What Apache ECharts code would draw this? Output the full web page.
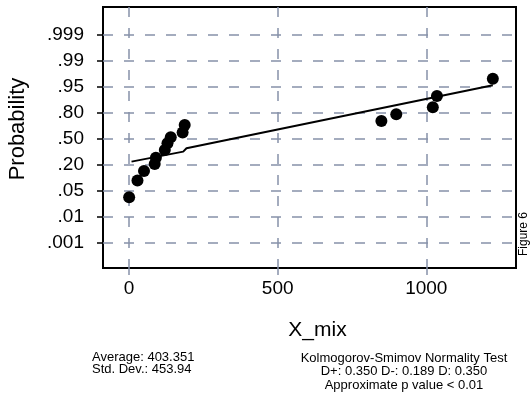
<!DOCTYPE html>
<html>
<head>
<meta charset="utf-8">
<script src="https://cdn.jsdelivr.net/npm/echarts@6/dist/echarts.min.js"></script>
<style>
html,body{margin:0;padding:0;background:#fff;}
#chart{width:531px;height:394px;}
</style>
</head>
<body>
<div id="chart"></div>
<script>
// Data (x = X_mix value, y = position on the probability axis, in tick-index units)
var pointX = [0, 28, 50, 86, 90, 120, 129, 140, 180, 187, 849, 899, 1022, 1036, 1224];
var pointY = [1.75, 2.39, 2.76, 3.03, 3.27, 3.57, 3.83, 4.06, 4.24, 4.53, 4.69, 4.95, 5.22, 5.65, 6.31];
var fitX = [8, 182, 193, 1224];
var fitY = [3.12, 3.505, 3.636, 6.06];
var yTickLabels = ['.001', '.01', '.05', '.20', '.50', '.80', '.95', '.99', '.999'];
var yTickPos = [0, 1, 2, 3, 4, 5, 6, 7, 8];
var xTicks = [0, 500, 1000];
var statsLeft = ['Average: 403.351', 'Std. Dev.: 453.94'];
var statsRight = ['Kolmogorov-Smimov Normality Test', 'D+: 0.350 D-: 0.189 D: 0.350', 'Approximate p value < 0.01'];

var FONT = '"Liberation Sans", Arial, Helvetica, sans-serif';
var GRIDC = '#8791a9';

var chart = echarts.init(document.getElementById('chart'), null, {renderer: 'canvas'});

var scatterData = pointX.map(function (x, i) { return [x, pointY[i]]; });
var fitData = fitX.map(function (x, i) { return [x, fitY[i]]; });

var graphics = [];
statsLeft.forEach(function (t, i) {
  graphics.push({type: 'text', x: 92, y: 357 + i * 12.3,
    style: {text: t, font: '13px ' + FONT, fill: '#000', align: 'left', verticalAlign: 'middle'}});
});
statsRight.forEach(function (t, i) {
  graphics.push({type: 'text', x: 404, y: 358.5 + i * 13.3,
    style: {text: t, font: '13px ' + FONT, fill: '#000', align: 'center', verticalAlign: 'middle'}});
});
graphics.push({type: 'text', x: 524, y: 234, rotation: Math.PI / 2,
  style: {text: 'Figure 6', font: '12px ' + FONT, fill: '#000', align: 'center', verticalAlign: 'middle'}});
graphics.push({type: 'text', x: 18, y: 129, rotation: Math.PI / 2,
  style: {text: 'Probability', font: '22px ' + FONT, fill: '#000', align: 'center', verticalAlign: 'middle'}});

chart.setOption({
  animation: false,
  backgroundColor: '#fff',
  grid: {left: 103, right: 15, top: 7, bottom: 126, show: true, borderColor: '#000', borderWidth: 2, backgroundColor: 'transparent'},
  xAxis: {
    type: 'value', min: -88, max: 1302, position: 'bottom',
    name: 'X_mix', nameLocation: 'middle', nameGap: 52,
    nameTextStyle: {fontFamily: FONT, fontSize: 21, color: '#000', padding: [0, 0, 0, 16]},
    axisLine: {show: false, onZero: false},
    axisTick: {show: true, inside: false, length: 7, customValues: xTicks, lineStyle: {color: GRIDC, width: 1.5}},
    axisLabel: {customValues: xTicks, margin: 11, fontFamily: FONT, fontSize: 19, color: '#000',
      formatter: function (v) { return String(v); }},
    splitLine: {show: true, lineStyle: {color: GRIDC, width: 1.5, type: [10, 11]}}
  },
  yAxis: {
    type: 'value', min: -0.98, max: 9.08, position: 'left',
    axisLine: {show: false, onZero: false},
    axisTick: {show: true, inside: false, length: 6, customValues: yTickPos, lineStyle: {color: '#000', width: 1.5}},
    axisLabel: {customValues: yTickPos, margin: 19, fontFamily: FONT, fontSize: 19, color: '#000',
      formatter: function (v) { var i = Math.round(v); return (i >= 0 && i < yTickLabels.length) ? yTickLabels[i] : ''; }},
    splitLine: {show: true, lineStyle: {color: GRIDC, width: 1.5, type: [10, 11]}}
  },
  series: [
    {type: 'line', data: fitData, showSymbol: false, symbol: 'none', lineStyle: {color: '#000', width: 2}, z: 3},
    {type: 'scatter', data: scatterData, symbol: 'circle', symbolSize: 12, itemStyle: {color: '#000', opacity: 1}, z: 4}
  ],
  graphic: graphics
});
</script>
</body>
</html>
